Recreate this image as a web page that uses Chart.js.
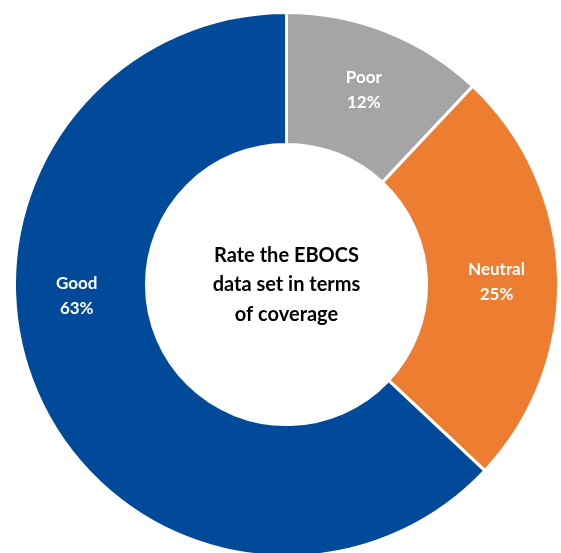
<!DOCTYPE html>
<html>
<head>
<meta charset="utf-8">
<script src="https://cdn.jsdelivr.net/npm/chart.js@4"></script>
<style>
  html, body { margin: 0; padding: 0; background: #ffffff; overflow: hidden; }
  body { width: 561px; height: 553px; position: relative; }
  #wrap { position: absolute; left: 13px; top: 11px; width: 547px; height: 547px; }
</style>
</head>
<body>
<div id="wrap"><canvas id="graficoCobertura"></canvas></div>
<script>
var categorias = ["Poor", "Neutral", "Good"];
var valores = [12, 25, 63];
var cores = ["#A5A5A5", "#ED7D31", "#004A99"];
var tituloCentro = ["Rate the EBOCS", "data set in terms", "of coverage"];

// rotulos dentro de cada fatia (nome + percentual)
var rotulosFatias = {
    id: "rotulosFatias",
    afterDatasetsDraw: function (chart, args, opts) {
        var ctx = chart.ctx;
        var meta = chart.getDatasetMeta(0);
        var total = valores.reduce(function (a, b) { return a + b; }, 0);
        ctx.save();
        ctx.fillStyle = "#ffffff";
        ctx.font = "bold 17px Lato";
        ctx.textAlign = "center";
        ctx.textBaseline = "middle";
        meta.data.forEach(function (arco, i) {
            var p = arco.getProps(["x", "y", "startAngle", "endAngle", "innerRadius", "outerRadius"], true);
            var ang = (p.startAngle + p.endAngle) / 2;
            if (opts.angulos && opts.angulos[i] != null) ang = opts.angulos[i];
            var r = (p.innerRadius + p.outerRadius) / 2 + 4;
            var x = p.x + Math.cos(ang) * r;
            var y = p.y + Math.sin(ang) * r;
            var pct = Math.round(valores[i] / total * 100) + "%";
            ctx.fillText(categorias[i], x, y - 12);
            ctx.fillText(pct, x, y + 13);
        });
        ctx.restore();
    }
};

// texto no buraco do doughnut
var textoCentro = {
    id: "textoCentro",
    afterDraw: function (chart) {
        var ctx = chart.ctx;
        var arco = chart.getDatasetMeta(0).data[0];
        ctx.save();
        ctx.fillStyle = "#000000";
        ctx.font = "bold 20px Lato";
        ctx.textAlign = "center";
        ctx.textBaseline = "middle";
        for (var i = 0; i < tituloCentro.length; i++) {
            ctx.fillText(tituloCentro[i], arco.x, arco.y - 29 + i * 29.5);
        }
        ctx.restore();
    }
};

new Chart(document.getElementById("graficoCobertura"), {
    type: "doughnut",
    data: {
        labels: categorias,
        datasets: [{
            data: valores,
            backgroundColor: cores,
            borderColor: "#ffffff",
            borderWidth: 3
        }]
    },
    options: {
        responsive: true,
        maintainAspectRatio: false,
        animation: false,
        cutout: "51.5%",
        layout: { padding: 0 },
        plugins: {
            legend: { display: false },
            tooltip: { enabled: false },
            rotulosFatias: { angulos: [null, -0.005 * Math.PI, 0.984 * Math.PI] }
        }
    },
    plugins: [rotulosFatias, textoCentro]
});
</script>
</body>
</html>
